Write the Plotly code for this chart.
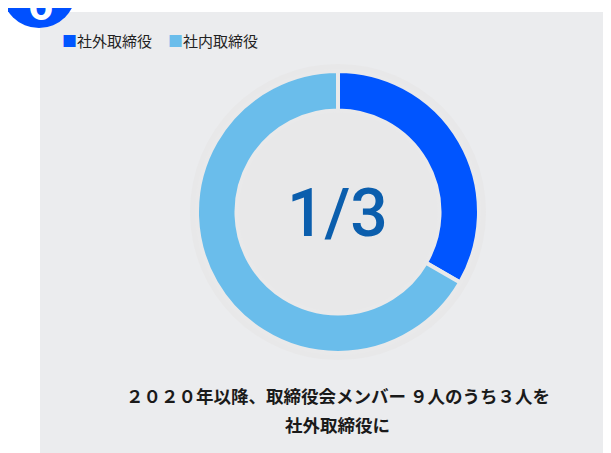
import plotly.graph_objects as go

labels = ['社外取締役', '社内取締役']
members = [3, 6]
colors = ['#0055FF', '#6ABDEB']
center_text = '1/3'
caption = ['２０２０年以降、取締役会メンバー ９人のうち３人を', '社外取締役に']

# the page body adds an 8px margin, so the figure is a bit smaller than the window
OFF = 8
W, H = 611 - OFF, 453 - OFF


def px(x):
    return (x - OFF) / W


def py(y):
    return 1 - (y - OFF) / H


jp = 'Noto Sans CJK JP'

fig = go.Figure()
fig.add_trace(go.Pie(
    labels=labels, values=members,
    marker=dict(colors=colors, line=dict(color='#E9E9EA', width=4)),
    hole=0.72, sort=False, direction='clockwise', rotation=0,
    textinfo='none', hoverinfo='label+value', showlegend=False,
    domain=dict(x=[px(338 - 141), px(338 + 141)], y=[py(212 + 141), py(212 - 141)]),
))

shapes = [
    # grey panel
    dict(type='rect', xref='paper', yref='paper', x0=px(40), x1=1.02, y0=-0.02, y1=py(12),
         fillcolor='#EBECEE', line_width=0, layer='below'),
    # soft halo behind donut
    dict(type='circle', xref='paper', yref='paper',
         x0=px(338 - 148), x1=px(338 + 148), y0=py(212 + 148), y1=py(212 - 148),
         fillcolor='#E8E8E9', line_width=0, layer='below'),
    # badge
    dict(type='circle', xref='paper', yref='paper',
         x0=px(2), x1=px(76), y0=py(28), y1=py(-46),
         fillcolor='#0050FF', line_width=0),
]

annotations = [
    dict(text='6', x=px(40), y=py(17), xref='paper', yref='paper', showarrow=False,
         font=dict(family='Roboto', size=44, color='white', weight='bold'),
         xanchor='center', yanchor='bottom', yshift=-16),
    dict(text=center_text, x=px(338), y=py(213), xref='paper', yref='paper', showarrow=False,
         font=dict(family='Roboto', size=66, color='#0B5EAD', weight=500),
         xanchor='center', yanchor='middle'),
]

# legend built from the labels / colours
leg_x = [60, 166]
for lab, col, lx in zip(labels, colors, leg_x):
    annotations.append(dict(
        text=f'<span style="color:{col}">■</span>{lab}', x=px(lx), y=py(40),
        xref='paper', yref='paper', showarrow=False, xanchor='left', yanchor='middle',
        font=dict(family=jp, size=15, color='#222222')))

for i, line in enumerate(caption):
    annotations.append(dict(
        text=line, x=px(338), y=py(395 + 29 * i), xref='paper', yref='paper',
        showarrow=False, xanchor='center', yanchor='middle',
        font=dict(family=jp, size=17.5, color='#1A1A1A', weight='bold')))

fig.update_layout(
    width=W, height=H, margin=dict(l=0, r=0, t=0, b=0),
    paper_bgcolor='white', plot_bgcolor='white',
    shapes=shapes, annotations=annotations,
)

fig.write_html('out.html')
